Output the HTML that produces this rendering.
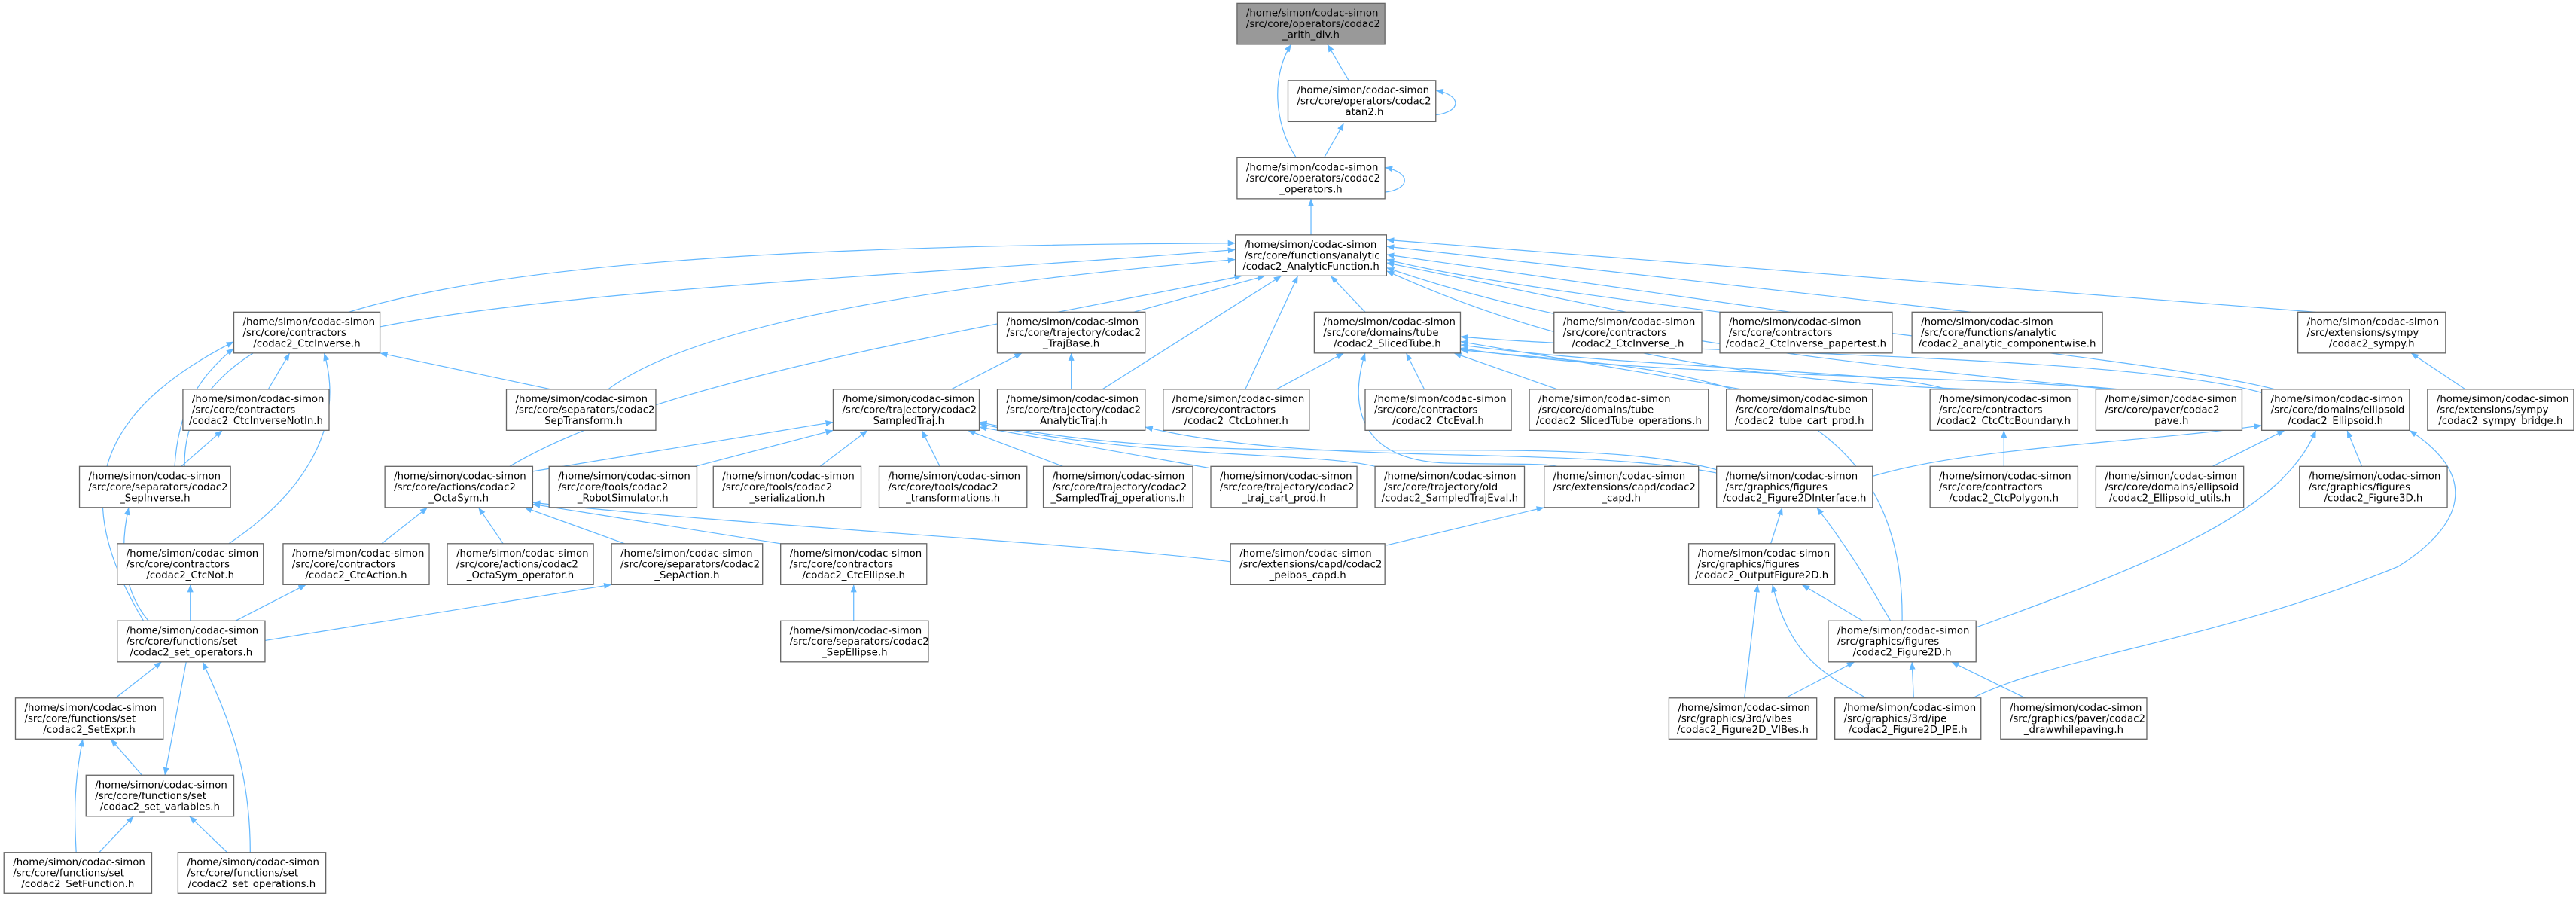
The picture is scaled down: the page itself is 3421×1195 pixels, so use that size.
<!DOCTYPE html>
<html><head><meta charset="utf-8"><style>
html,body{margin:0;padding:0;background:#fff;}
svg{display:block}
.n rect{fill:#fff;stroke:#666;stroke-width:0.6}
.n text{font-family:"DejaVu Sans","Liberation Sans",sans-serif;font-size:6.1px;fill:#000}
.n text.m{text-anchor:middle}
.e path{fill:none;stroke:#63b8ff;stroke-width:0.55;marker-start:url(#a)}
</style></head><body>
<svg width="3421" height="1195" viewBox="0 0 1568 548" xmlns="http://www.w3.org/2000/svg">
<defs><marker id="a" viewBox="0 0 10 8" refX="0" refY="4" markerWidth="4.6" markerHeight="3.7" markerUnits="userSpaceOnUse" orient="auto"><path d="M0,4 L10,0 L10,8z" fill="#63b8ff"/></marker></defs>
<g class="e">
<path d="M808,27 L821,49"/>
<path d="M786,27 C774,45 775,75 789,96"/>
<path d="M818,75 L806,96"/>
<path d="M874,55 C890,58 890,68 874,70"/>
<path d="M843,102 C859,105 859,115 843,117"/>
<path d="M798,121 L798,143"/>
<path d="M752,152 C600,165 350,175 231,199"/>
<path d="M752,158 C550,175 420,200 370,237"/>
<path d="M752,148 C300,150 110,180 112,284"/>
<path d="M756,168 C600,200 400,230 310,284"/>
<path d="M770,168 L690,190"/>
<path d="M780,168 L671,237"/>
<path d="M790,168 L758,237"/>
<path d="M810,168 L831,190"/>
<path d="M844,160 L990,190"/>
<path d="M844,155 L1090,190"/>
<path d="M844,150 L1200,190"/>
<path d="M844,146 L1410,190"/>
<path d="M844,165 C900,190 1000,230 1200,237"/>
<path d="M844,163 C950,200 1100,220 1290,237"/>
<path d="M844,158 C950,185 1300,215 1385,237"/>
<path d="M176,215 L163,237"/>
<path d="M231,215 L335,237"/>
<path d="M142,212 C120,230 108,250 106,284"/>
<path d="M197,215 C210,260 185,300 139,331"/>
<path d="M142,208 C60,250 40,300 87,378"/>
<path d="M135,262 L110,284"/>
<path d="M78,309 C72,335 75,360 90,378"/>
<path d="M115.5,356 L115.5,378"/>
<path d="M186,356 L143,378"/>
<path d="M372,356 L161,390"/>
<path d="M622,215 L579,237"/>
<path d="M652,215 L652,237"/>
<path d="M818,215 L777,237"/>
<path d="M856,215 L867,237"/>
<path d="M885,215 L948,237"/>
<path d="M831,215 C820,250 830,280 880,282 C920,283 940,282 948,284"/>
<path d="M889,208 L1060,237"/>
<path d="M889,210 C1000,225 1150,225 1185,237"/>
<path d="M889,212 C1000,230 1200,228 1285,237"/>
<path d="M889,205 C1000,215 1300,215 1380,240"/>
<path d="M889,213 C1000,225 1160,220 1158,378"/>
<path d="M507,257 L324,287"/>
<path d="M507,262 L423,284"/>
<path d="M528,262 L499,284"/>
<path d="M561,262 L572,284"/>
<path d="M589,262 L647,284"/>
<path d="M596,260 L736,285"/>
<path d="M596,258 C700,280 800,275 837,284"/>
<path d="M596,257 C750,290 950,260 1045,286"/>
<path d="M697,260 C800,285 950,270 1045,288"/>
<path d="M260,309 L232,331"/>
<path d="M291,309 L306,331"/>
<path d="M319,309 L380,331"/>
<path d="M324,307 L475,331"/>
<path d="M324,306 C450,320 650,330 749,342"/>
<path d="M940,309 L844,332"/>
<path d="M519.5,356 L519.5,378"/>
<path d="M1220,262 L1220,284"/>
<path d="M1377,259 C1300,270 1200,272 1140,290"/>
<path d="M1391,262 L1347,284"/>
<path d="M1429,262 L1438,284"/>
<path d="M1410,262 C1390,310 1320,340 1203,382"/>
<path d="M1467,262 C1510,290 1500,320 1460,345 C1350,390 1250,400 1201,425"/>
<path d="M1468,215 L1501,237"/>
<path d="M1085,309 L1078,331"/>
<path d="M1106,309 C1130,340 1140,360 1151,378"/>
<path d="M1070,356 L1062,425"/>
<path d="M1079,356 C1090,400 1110,410 1136,425"/>
<path d="M1097,356 L1134,378"/>
<path d="M1129,403 L1087,425"/>
<path d="M1164,403 L1165,425"/>
<path d="M1188,403 L1233,425"/>
<path d="M98,403 L70,425"/>
<path d="M100,472 L113,403"/>
<path d="M123,403 C140,440 152,470 152,519"/>
<path d="M67,450 L86,472"/>
<path d="M50,450 C44,480 45,500 46,519"/>
<path d="M81,497 L60,519"/>
<path d="M115,497 L138,519"/>
</g>
<g class="n">
<g transform="translate(753,2)"><rect width="90" height="25" style="fill:#999"/><text x="5.5" y="7.9">/home/simon/codac-simon</text><text x="5.5" y="14.5">/src/core/operators/codac2</text><text class="m" x="45" y="21.1">_arith_div.h</text></g>
<g transform="translate(784,49)"><rect width="90" height="25"/><text x="5.5" y="7.9">/home/simon/codac-simon</text><text x="5.5" y="14.5">/src/core/operators/codac2</text><text class="m" x="45" y="21.1">_atan2.h</text></g>
<g transform="translate(753,96)"><rect width="90" height="25"/><text x="5.5" y="7.9">/home/simon/codac-simon</text><text x="5.5" y="14.5">/src/core/operators/codac2</text><text class="m" x="45" y="21.1">_operators.h</text></g>
<g transform="translate(752,143)"><rect width="92" height="25"/><text x="5.5" y="7.9">/home/simon/codac-simon</text><text x="5.5" y="14.5">/src/core/functions/analytic</text><text class="m" x="46" y="21.1">/codac2_AnalyticFunction.h</text></g>
<g transform="translate(142,190)"><rect width="89" height="25"/><text x="5.5" y="7.9">/home/simon/codac-simon</text><text x="5.5" y="14.5">/src/core/contractors</text><text class="m" x="44.5" y="21.1">/codac2_CtcInverse.h</text></g>
<g transform="translate(607,190)"><rect width="90" height="25"/><text x="5.5" y="7.9">/home/simon/codac-simon</text><text x="5.5" y="14.5">/src/core/trajectory/codac2</text><text class="m" x="45" y="21.1">_TrajBase.h</text></g>
<g transform="translate(800,190)"><rect width="89" height="25"/><text x="5.5" y="7.9">/home/simon/codac-simon</text><text x="5.5" y="14.5">/src/core/domains/tube</text><text class="m" x="44.5" y="21.1">/codac2_SlicedTube.h</text></g>
<g transform="translate(946,190)"><rect width="90" height="25"/><text x="5.5" y="7.9">/home/simon/codac-simon</text><text x="5.5" y="14.5">/src/core/contractors</text><text class="m" x="45" y="21.1">/codac2_CtcInverse_.h</text></g>
<g transform="translate(1047,190)"><rect width="105" height="25"/><text x="5.5" y="7.9">/home/simon/codac-simon</text><text x="5.5" y="14.5">/src/core/contractors</text><text class="m" x="52.5" y="21.1">/codac2_CtcInverse_papertest.h</text></g>
<g transform="translate(1164,190)"><rect width="116" height="25"/><text x="5.5" y="7.9">/home/simon/codac-simon</text><text x="5.5" y="14.5">/src/core/functions/analytic</text><text class="m" x="58" y="21.1">/codac2_analytic_componentwise.h</text></g>
<g transform="translate(1399,190)"><rect width="90" height="25"/><text x="5.5" y="7.9">/home/simon/codac-simon</text><text x="5.5" y="14.5">/src/extensions/sympy</text><text class="m" x="45" y="21.1">/codac2_sympy.h</text></g>
<g transform="translate(111,237)"><rect width="89" height="25"/><text x="5.5" y="7.9">/home/simon/codac-simon</text><text x="5.5" y="14.5">/src/core/contractors</text><text class="m" x="44.5" y="21.1">/codac2_CtcInverseNotIn.h</text></g>
<g transform="translate(308,237)"><rect width="91" height="25"/><text x="5.5" y="7.9">/home/simon/codac-simon</text><text x="5.5" y="14.5">/src/core/separators/codac2</text><text class="m" x="45.5" y="21.1">_SepTransform.h</text></g>
<g transform="translate(507,237)"><rect width="89" height="25"/><text x="5.5" y="7.9">/home/simon/codac-simon</text><text x="5.5" y="14.5">/src/core/trajectory/codac2</text><text class="m" x="44.5" y="21.1">_SampledTraj.h</text></g>
<g transform="translate(607,237)"><rect width="90" height="25"/><text x="5.5" y="7.9">/home/simon/codac-simon</text><text x="5.5" y="14.5">/src/core/trajectory/codac2</text><text class="m" x="45" y="21.1">_AnalyticTraj.h</text></g>
<g transform="translate(708,237)"><rect width="89" height="25"/><text x="5.5" y="7.9">/home/simon/codac-simon</text><text x="5.5" y="14.5">/src/core/contractors</text><text class="m" x="44.5" y="21.1">/codac2_CtcLohner.h</text></g>
<g transform="translate(831,237)"><rect width="89" height="25"/><text x="5.5" y="7.9">/home/simon/codac-simon</text><text x="5.5" y="14.5">/src/core/contractors</text><text class="m" x="44.5" y="21.1">/codac2_CtcEval.h</text></g>
<g transform="translate(931,237)"><rect width="109" height="25"/><text x="5.5" y="7.9">/home/simon/codac-simon</text><text x="5.5" y="14.5">/src/core/domains/tube</text><text class="m" x="54.5" y="21.1">/codac2_SlicedTube_operations.h</text></g>
<g transform="translate(1051,237)"><rect width="89" height="25"/><text x="5.5" y="7.9">/home/simon/codac-simon</text><text x="5.5" y="14.5">/src/core/domains/tube</text><text class="m" x="44.5" y="21.1">/codac2_tube_cart_prod.h</text></g>
<g transform="translate(1175,237)"><rect width="90" height="25"/><text x="5.5" y="7.9">/home/simon/codac-simon</text><text x="5.5" y="14.5">/src/core/contractors</text><text class="m" x="45" y="21.1">/codac2_CtcCtcBoundary.h</text></g>
<g transform="translate(1276,237)"><rect width="89" height="25"/><text x="5.5" y="7.9">/home/simon/codac-simon</text><text x="5.5" y="14.5">/src/core/paver/codac2</text><text class="m" x="44.5" y="21.1">_pave.h</text></g>
<g transform="translate(1377,237)"><rect width="90" height="25"/><text x="5.5" y="7.9">/home/simon/codac-simon</text><text x="5.5" y="14.5">/src/core/domains/ellipsoid</text><text class="m" x="45" y="21.1">/codac2_Ellipsoid.h</text></g>
<g transform="translate(1478,237)"><rect width="89" height="25"/><text x="5.5" y="7.9">/home/simon/codac-simon</text><text x="5.5" y="14.5">/src/extensions/sympy</text><text class="m" x="44.5" y="21.1">/codac2_sympy_bridge.h</text></g>
<g transform="translate(48,284)"><rect width="92" height="25"/><text x="5.5" y="7.9">/home/simon/codac-simon</text><text x="5.5" y="14.5">/src/core/separators/codac2</text><text class="m" x="46" y="21.1">_SepInverse.h</text></g>
<g transform="translate(234,284)"><rect width="90" height="25"/><text x="5.5" y="7.9">/home/simon/codac-simon</text><text x="5.5" y="14.5">/src/core/actions/codac2</text><text class="m" x="45" y="21.1">_OctaSym.h</text></g>
<g transform="translate(334,284)"><rect width="90" height="25"/><text x="5.5" y="7.9">/home/simon/codac-simon</text><text x="5.5" y="14.5">/src/core/tools/codac2</text><text class="m" x="45" y="21.1">_RobotSimulator.h</text></g>
<g transform="translate(434,284)"><rect width="90" height="25"/><text x="5.5" y="7.9">/home/simon/codac-simon</text><text x="5.5" y="14.5">/src/core/tools/codac2</text><text class="m" x="45" y="21.1">_serialization.h</text></g>
<g transform="translate(535,284)"><rect width="90" height="25"/><text x="5.5" y="7.9">/home/simon/codac-simon</text><text x="5.5" y="14.5">/src/core/tools/codac2</text><text class="m" x="45" y="21.1">_transformations.h</text></g>
<g transform="translate(635,284)"><rect width="91" height="25"/><text x="5.5" y="7.9">/home/simon/codac-simon</text><text x="5.5" y="14.5">/src/core/trajectory/codac2</text><text class="m" x="45.5" y="21.1">_SampledTraj_operations.h</text></g>
<g transform="translate(737,284)"><rect width="89" height="25"/><text x="5.5" y="7.9">/home/simon/codac-simon</text><text x="5.5" y="14.5">/src/core/trajectory/codac2</text><text class="m" x="44.5" y="21.1">_traj_cart_prod.h</text></g>
<g transform="translate(837,284)"><rect width="91" height="25"/><text x="5.5" y="7.9">/home/simon/codac-simon</text><text x="5.5" y="14.5">/src/core/trajectory/old</text><text class="m" x="45.5" y="21.1">/codac2_SampledTrajEval.h</text></g>
<g transform="translate(940,284)"><rect width="94" height="25"/><text x="5.5" y="7.9">/home/simon/codac-simon</text><text x="5.5" y="14.5">/src/extensions/capd/codac2</text><text class="m" x="47" y="21.1">_capd.h</text></g>
<g transform="translate(1045,284)"><rect width="95" height="25"/><text x="5.5" y="7.9">/home/simon/codac-simon</text><text x="5.5" y="14.5">/src/graphics/figures</text><text class="m" x="47.5" y="21.1">/codac2_Figure2DInterface.h</text></g>
<g transform="translate(1175,284)"><rect width="90" height="25"/><text x="5.5" y="7.9">/home/simon/codac-simon</text><text x="5.5" y="14.5">/src/core/contractors</text><text class="m" x="45" y="21.1">/codac2_CtcPolygon.h</text></g>
<g transform="translate(1276,284)"><rect width="90" height="25"/><text x="5.5" y="7.9">/home/simon/codac-simon</text><text x="5.5" y="14.5">/src/core/domains/ellipsoid</text><text class="m" x="45" y="21.1">/codac2_Ellipsoid_utils.h</text></g>
<g transform="translate(1400,284)"><rect width="90" height="25"/><text x="5.5" y="7.9">/home/simon/codac-simon</text><text x="5.5" y="14.5">/src/graphics/figures</text><text class="m" x="45" y="21.1">/codac2_Figure3D.h</text></g>
<g transform="translate(71,331)"><rect width="89" height="25"/><text x="5.5" y="7.9">/home/simon/codac-simon</text><text x="5.5" y="14.5">/src/core/contractors</text><text class="m" x="44.5" y="21.1">/codac2_CtcNot.h</text></g>
<g transform="translate(172,331)"><rect width="89" height="25"/><text x="5.5" y="7.9">/home/simon/codac-simon</text><text x="5.5" y="14.5">/src/core/contractors</text><text class="m" x="44.5" y="21.1">/codac2_CtcAction.h</text></g>
<g transform="translate(272,331)"><rect width="89" height="25"/><text x="5.5" y="7.9">/home/simon/codac-simon</text><text x="5.5" y="14.5">/src/core/actions/codac2</text><text class="m" x="44.5" y="21.1">_OctaSym_operator.h</text></g>
<g transform="translate(372,331)"><rect width="92" height="25"/><text x="5.5" y="7.9">/home/simon/codac-simon</text><text x="5.5" y="14.5">/src/core/separators/codac2</text><text class="m" x="46" y="21.1">_SepAction.h</text></g>
<g transform="translate(475,331)"><rect width="89" height="25"/><text x="5.5" y="7.9">/home/simon/codac-simon</text><text x="5.5" y="14.5">/src/core/contractors</text><text class="m" x="44.5" y="21.1">/codac2_CtcEllipse.h</text></g>
<g transform="translate(749,331)"><rect width="94" height="25"/><text x="5.5" y="7.9">/home/simon/codac-simon</text><text x="5.5" y="14.5">/src/extensions/capd/codac2</text><text class="m" x="47" y="21.1">_peibos_capd.h</text></g>
<g transform="translate(1028,331)"><rect width="89" height="25"/><text x="5.5" y="7.9">/home/simon/codac-simon</text><text x="5.5" y="14.5">/src/graphics/figures</text><text class="m" x="44.5" y="21.1">/codac2_OutputFigure2D.h</text></g>
<g transform="translate(71,378)"><rect width="90" height="25"/><text x="5.5" y="7.9">/home/simon/codac-simon</text><text x="5.5" y="14.5">/src/core/functions/set</text><text class="m" x="45" y="21.1">/codac2_set_operators.h</text></g>
<g transform="translate(475,378)"><rect width="90" height="25"/><text x="5.5" y="7.9">/home/simon/codac-simon</text><text x="5.5" y="14.5">/src/core/separators/codac2</text><text class="m" x="45" y="21.1">_SepEllipse.h</text></g>
<g transform="translate(1113,378)"><rect width="90" height="25"/><text x="5.5" y="7.9">/home/simon/codac-simon</text><text x="5.5" y="14.5">/src/graphics/figures</text><text class="m" x="45" y="21.1">/codac2_Figure2D.h</text></g>
<g transform="translate(9,425)"><rect width="90" height="25"/><text x="5.5" y="7.9">/home/simon/codac-simon</text><text x="5.5" y="14.5">/src/core/functions/set</text><text class="m" x="45" y="21.1">/codac2_SetExpr.h</text></g>
<g transform="translate(1016,425)"><rect width="90" height="25"/><text x="5.5" y="7.9">/home/simon/codac-simon</text><text x="5.5" y="14.5">/src/graphics/3rd/vibes</text><text class="m" x="45" y="21.1">/codac2_Figure2D_VIBes.h</text></g>
<g transform="translate(1117,425)"><rect width="89" height="25"/><text x="5.5" y="7.9">/home/simon/codac-simon</text><text x="5.5" y="14.5">/src/graphics/3rd/ipe</text><text class="m" x="44.5" y="21.1">/codac2_Figure2D_IPE.h</text></g>
<g transform="translate(1218,425)"><rect width="89" height="25"/><text x="5.5" y="7.9">/home/simon/codac-simon</text><text x="5.5" y="14.5">/src/graphics/paver/codac2</text><text class="m" x="44.5" y="21.1">_drawwhilepaving.h</text></g>
<g transform="translate(52,472)"><rect width="90" height="25"/><text x="5.5" y="7.9">/home/simon/codac-simon</text><text x="5.5" y="14.5">/src/core/functions/set</text><text class="m" x="45" y="21.1">/codac2_set_variables.h</text></g>
<g transform="translate(2,519)"><rect width="90" height="25"/><text x="5.5" y="7.9">/home/simon/codac-simon</text><text x="5.5" y="14.5">/src/core/functions/set</text><text class="m" x="45" y="21.1">/codac2_SetFunction.h</text></g>
<g transform="translate(108,519)"><rect width="90" height="25"/><text x="5.5" y="7.9">/home/simon/codac-simon</text><text x="5.5" y="14.5">/src/core/functions/set</text><text class="m" x="45" y="21.1">/codac2_set_operations.h</text></g>
</g>
</svg>
</body></html>
